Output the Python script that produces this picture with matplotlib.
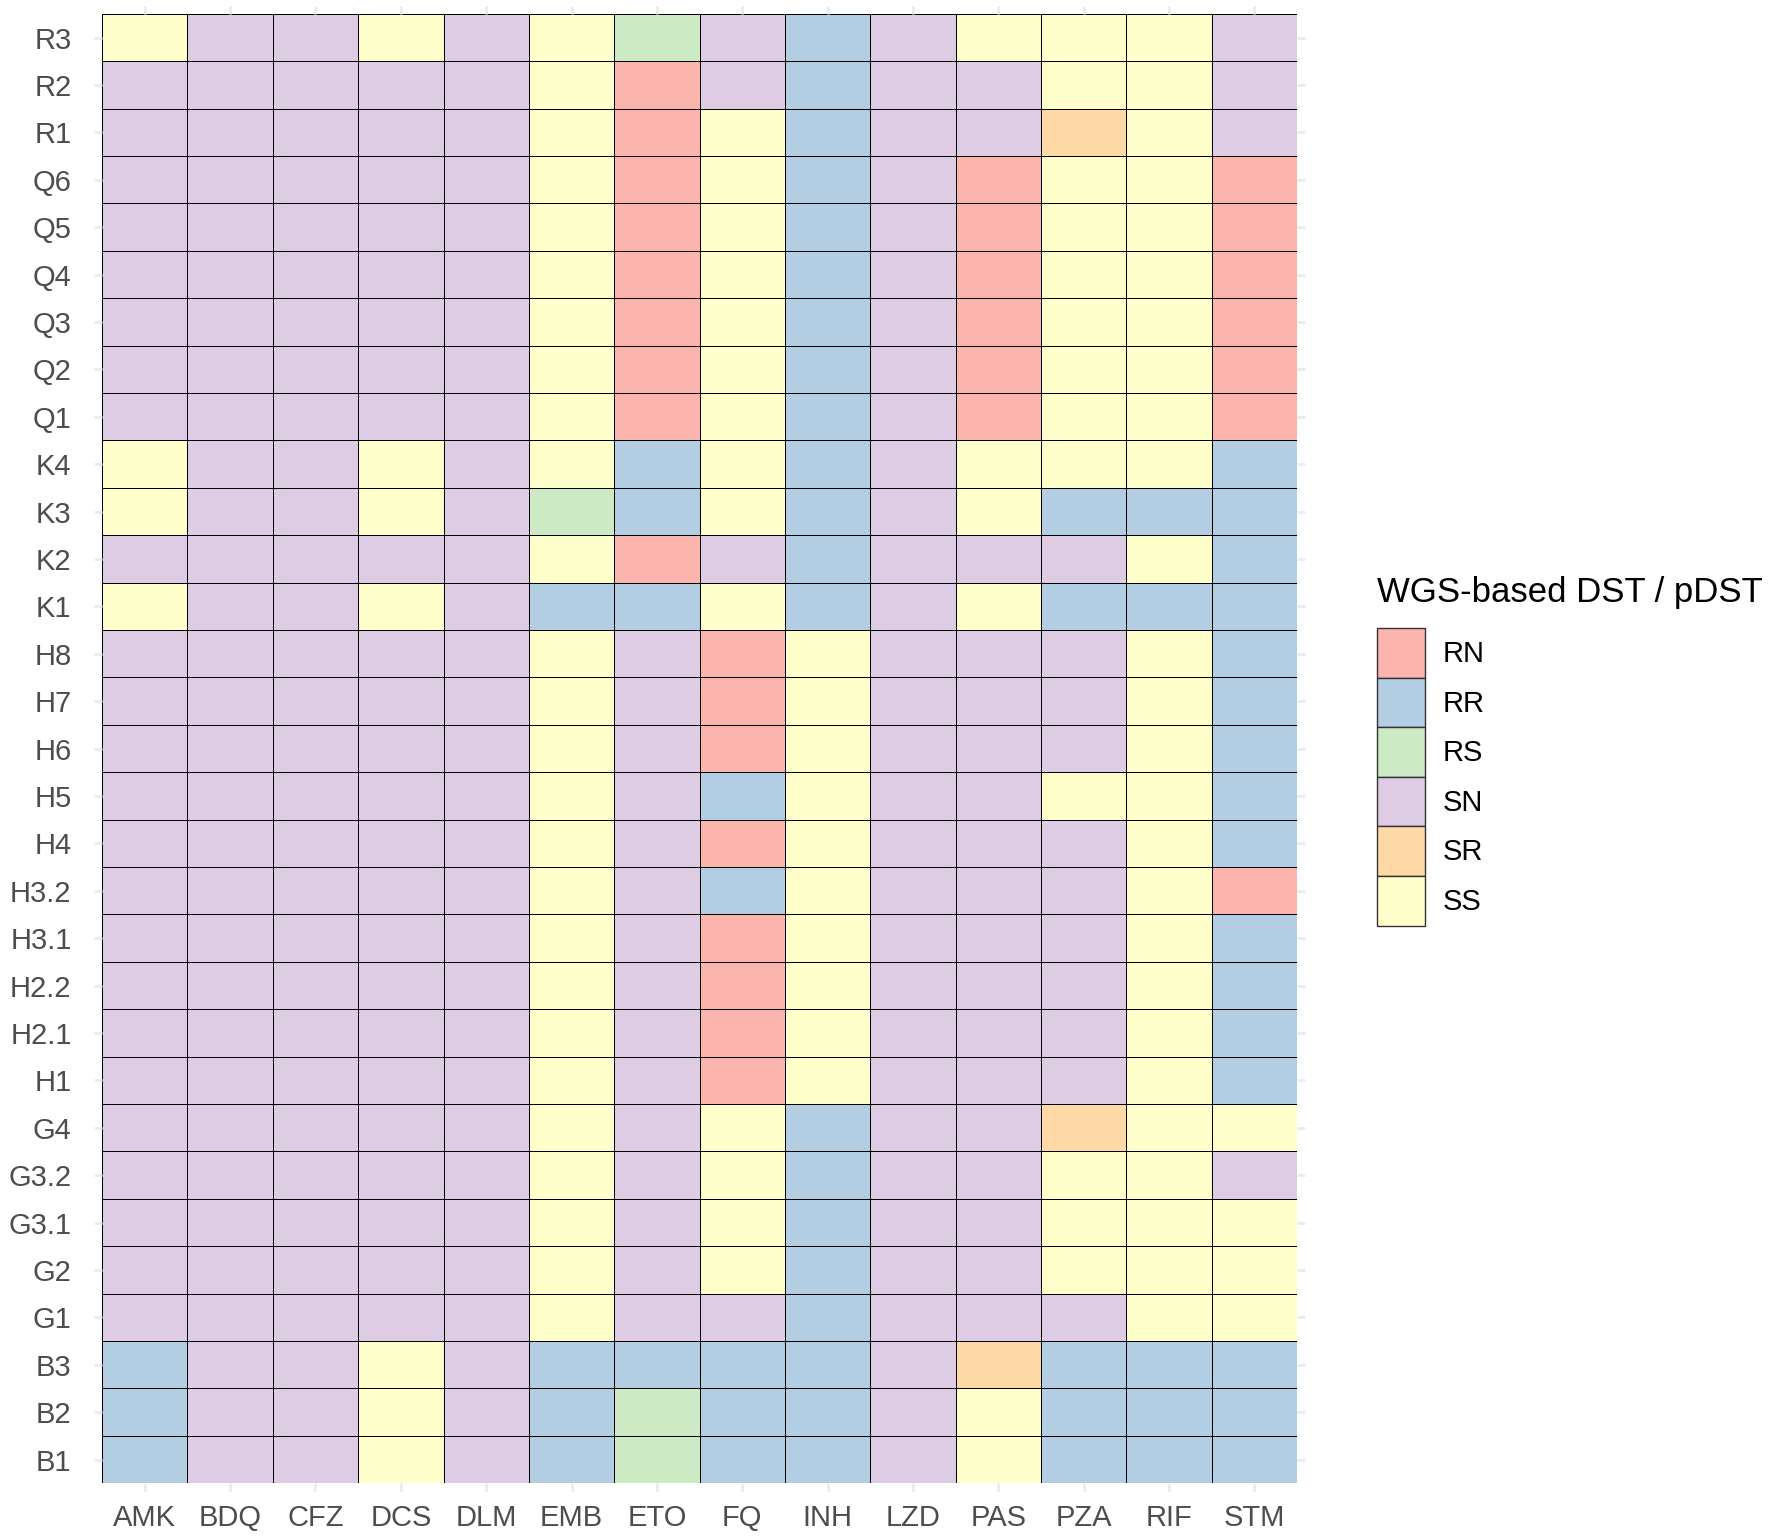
import numpy as np
import matplotlib.pyplot as plt
from matplotlib.colors import ListedColormap, BoundaryNorm
from matplotlib.patches import Patch

plt.rcParams['font.family'] = ['Liberation Sans', 'DejaVu Sans']

# drugs (columns) and strains (rows, top to bottom)
drugs = ['AMK', 'BDQ', 'CFZ', 'DCS', 'DLM', 'EMB', 'ETO', 'FQ', 'INH', 'LZD', 'PAS', 'PZA', 'RIF', 'STM']
strains = ['R3', 'R2', 'R1', 'Q6', 'Q5', 'Q4', 'Q3', 'Q2', 'Q1', 'K4', 'K3', 'K2', 'K1',
           'H8', 'H7', 'H6', 'H5', 'H4', 'H3.2', 'H3.1', 'H2.2', 'H2.1', 'H1',
           'G4', 'G3.2', 'G3.1', 'G2', 'G1', 'B3', 'B2', 'B1']
categories = ['RN', 'RR', 'RS', 'SN', 'SR', 'SS']
cat_colors = ['#FBB4AE', '#B3CDE3', '#CCEBC5', '#DECBE4', '#FED9A6', '#FFFFCC']

# WGS-based DST / pDST call per strain, one entry per drug
calls = [
    'SS SN SN SS SN SS RS SN RR SN SS SS SS SN',  # R3
    'SN SN SN SN SN SS RN SN RR SN SN SS SS SN',  # R2
    'SN SN SN SN SN SS RN SS RR SN SN SR SS SN',  # R1
    'SN SN SN SN SN SS RN SS RR SN RN SS SS RN',  # Q6
    'SN SN SN SN SN SS RN SS RR SN RN SS SS RN',  # Q5
    'SN SN SN SN SN SS RN SS RR SN RN SS SS RN',  # Q4
    'SN SN SN SN SN SS RN SS RR SN RN SS SS RN',  # Q3
    'SN SN SN SN SN SS RN SS RR SN RN SS SS RN',  # Q2
    'SN SN SN SN SN SS RN SS RR SN RN SS SS RN',  # Q1
    'SS SN SN SS SN SS RR SS RR SN SS SS SS RR',  # K4
    'SS SN SN SS SN RS RR SS RR SN SS RR RR RR',  # K3
    'SN SN SN SN SN SS RN SN RR SN SN SN SS RR',  # K2
    'SS SN SN SS SN RR RR SS RR SN SS RR RR RR',  # K1
    'SN SN SN SN SN SS SN RN SS SN SN SN SS RR',  # H8
    'SN SN SN SN SN SS SN RN SS SN SN SN SS RR',  # H7
    'SN SN SN SN SN SS SN RN SS SN SN SN SS RR',  # H6
    'SN SN SN SN SN SS SN RR SS SN SN SS SS RR',  # H5
    'SN SN SN SN SN SS SN RN SS SN SN SN SS RR',  # H4
    'SN SN SN SN SN SS SN RR SS SN SN SN SS RN',  # H3.2
    'SN SN SN SN SN SS SN RN SS SN SN SN SS RR',  # H3.1
    'SN SN SN SN SN SS SN RN SS SN SN SN SS RR',  # H2.2
    'SN SN SN SN SN SS SN RN SS SN SN SN SS RR',  # H2.1
    'SN SN SN SN SN SS SN RN SS SN SN SN SS RR',  # H1
    'SN SN SN SN SN SS SN SS RR SN SN SR SS SS',  # G4
    'SN SN SN SN SN SS SN SS RR SN SN SS SS SN',  # G3.2
    'SN SN SN SN SN SS SN SS RR SN SN SS SS SS',  # G3.1
    'SN SN SN SN SN SS SN SS RR SN SN SS SS SS',  # G2
    'SN SN SN SN SN SS SN SN RR SN SN SN SS SS',  # G1
    'RR SN SN SS SN RR RR RR RR SN SR RR RR RR',  # B3
    'RR SN SN SS SN RR RS RR RR SN SS RR RR RR',  # B2
    'RR SN SN SS SN RR RS RR RR SN SS RR RR RR',  # B1
]

codes = np.array([[categories.index(c) for c in row.split()] for row in calls])

cmap = ListedColormap(cat_colors)
norm = BoundaryNorm(np.arange(len(categories) + 1) - 0.5, cmap.N)

fig = plt.figure(figsize=(17.72, 15.37), dpi=100)
ax = fig.add_axes([0.0576, 0.035, 0.6744, 0.956])

ax.pcolormesh(np.arange(len(drugs) + 1), np.arange(len(strains) + 1), codes,
              cmap=cmap, norm=norm, edgecolors='black', linewidth=0.6)
ax.set_xlim(0, len(drugs))
ax.set_ylim(len(strains), 0)

ax.set_xticks(np.arange(len(drugs)) + 0.5)
ax.set_xticklabels(drugs)
ax.set_yticks(np.arange(len(strains)) + 0.5)
ax.set_yticklabels(strains)
ax.tick_params(axis='both', labelsize=21, colors='#EBEBEB', labelcolor='#4D4D4D',
               length=6, width=2, direction='out', top=True, right=True)
ax.tick_params(axis='x', pad=9)
ax.tick_params(axis='y', pad=16)
for s in ax.spines.values():
    s.set_visible(False)

# legend
handles = [Patch(facecolor=c, edgecolor='#333333', linewidth=1.0, label=l)
           for c, l in zip(cat_colors, categories)]
leg = fig.legend(handles=handles, title='WGS-based DST / pDST', loc='upper left',
                 bbox_to_anchor=(0.769, 0.635), frameon=False, fontsize=21,
                 title_fontsize=25, alignment='left', handlelength=1.65,
                 handleheight=2.24, labelspacing=0, handletextpad=0.6, borderpad=0)
leg._legend_box.sep = 14

plt.savefig('out.png', dpi=100)
